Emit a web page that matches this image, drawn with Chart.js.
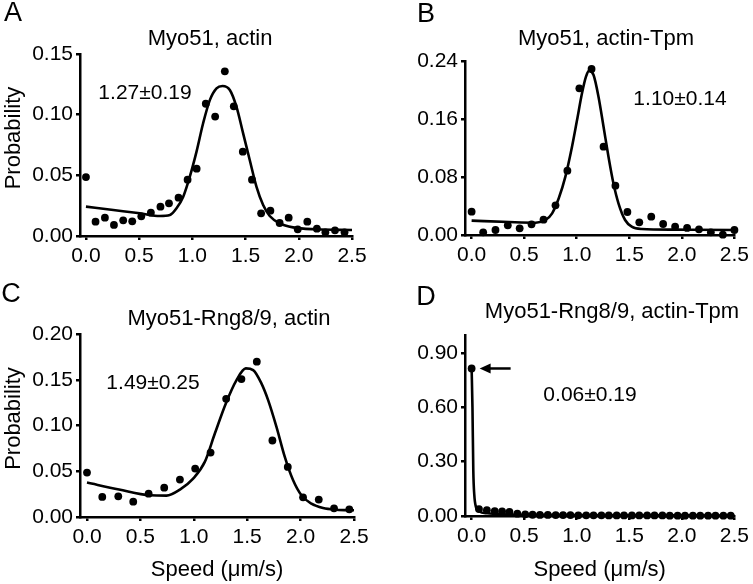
<!DOCTYPE html>
<html>
<head>
<meta charset="utf-8">
<script src="https://cdn.jsdelivr.net/npm/chart.js@4.4.0/dist/chart.umd.min.js"></script>
<style>
body { margin: 0; background: #fff; width: 753px; height: 584px; position: relative; overflow: hidden; }
canvas { position: absolute; }
</style>
</head>
<body>
<canvas id="chA" width="376" height="280" style="left:0;top:0"></canvas>
<canvas id="chB" width="377" height="280" style="left:376px;top:0"></canvas>
<canvas id="chC" width="376" height="304" style="left:0;top:280px"></canvas>
<canvas id="chD" width="377" height="304" style="left:376px;top:280px"></canvas>
<script>
// tick labels
var xTicks = [0, 0.5, 1.0, 1.5, 2.0, 2.5];
var yTicksA = [0, 0.05, 0.10, 0.15];
var yTicksB = [0, 0.08, 0.16, 0.24];
var yTicksC = [0, 0.05, 0.10, 0.15, 0.20];
var yTicksD = [0, 0.30, 0.60, 0.90];

// A - Myo51, actin
var speedA = [0, 0.09, 0.178, 0.263, 0.35, 0.435, 0.52, 0.61, 0.70, 0.78, 0.87, 0.955, 1.04, 1.126, 1.214, 1.305, 1.389, 1.474, 1.56, 1.646, 1.733, 1.82, 1.905, 1.99, 2.08, 2.17, 2.25, 2.34, 2.43];
var probA = [0.0486, 0.0118, 0.0151, 0.0091, 0.0129, 0.0121, 0.0162, 0.0192, 0.0242, 0.0269, 0.0316, 0.0464, 0.0555, 0.109, 0.0984, 0.1357, 0.1069, 0.0695, 0.0464, 0.0187, 0.0209, 0.0107, 0.0151, 0.0055, 0.0118, 0.006, 0.003, 0.0047, 0.003];
var fitSpeedA = [0, 0.257, 0.507, 0.695, 0.789, 0.851, 0.914, 0.976, 1.039, 1.101, 1.164, 1.227, 1.283, 1.352, 1.414, 1.477, 1.539, 1.602, 1.665, 1.727, 1.821, 1.946, 2.165, 2.5];
var fitProbA = [0.0242, 0.0214, 0.0187, 0.0165, 0.0173, 0.0228, 0.0324, 0.0489, 0.0695, 0.0929, 0.112, 0.1217, 0.1236, 0.1203, 0.1066, 0.0846, 0.0626, 0.0407, 0.0255, 0.0165, 0.0104, 0.0071, 0.0055, 0.0049];

// B - Myo51, actin-Tpm
var speedB = [0, 0.11, 0.227, 0.344, 0.457, 0.57, 0.684, 0.798, 0.911, 1.025, 1.141, 1.255, 1.368, 1.482, 1.595, 1.709, 1.822, 1.936, 2.05, 2.163, 2.276, 2.39, 2.5];
var probB = [0.0322, 0.0037, 0.0069, 0.0133, 0.0092, 0.0147, 0.0211, 0.0409, 0.0887, 0.2023, 0.229, 0.1218, 0.068, 0.0317, 0.0175, 0.0253, 0.0152, 0.0115, 0.0097, 0.0078, 0.0037, 0.0005, 0.0069];
var fitSpeedB = [0, 0.356, 0.608, 0.703, 0.766, 0.829, 0.892, 0.955, 1.003, 1.05, 1.088, 1.119, 1.16, 1.207, 1.255, 1.302, 1.349, 1.397, 1.46, 1.523, 1.617, 1.933, 2.5];
var fitProbB = [0.0198, 0.0179, 0.017, 0.0207, 0.0299, 0.0506, 0.0805, 0.1218, 0.1586, 0.1954, 0.2184, 0.2267, 0.2207, 0.1908, 0.1494, 0.108, 0.0713, 0.0437, 0.0207, 0.0115, 0.0083, 0.0074, 0.0069];

// C - Myo51-Rng8/9, actin
var speedC = [0, 0.143, 0.293, 0.433, 0.577, 0.723, 0.87, 1.013, 1.157, 1.303, 1.446, 1.59, 1.736, 1.88, 2.023, 2.17, 2.313, 2.456];
var probC = [0.0485, 0.0219, 0.0226, 0.0168, 0.0255, 0.0321, 0.0409, 0.0529, 0.0704, 0.1292, 0.1507, 0.1697, 0.0836, 0.0547, 0.0215, 0.019, 0.0095, 0.0084];
var fitSpeedC = [0, 0.3, 0.589, 0.745, 0.87, 0.994, 1.103, 1.197, 1.3, 1.4, 1.487, 1.556, 1.633, 1.696, 1.774, 1.852, 1.93, 2.008, 2.101, 2.21, 2.335, 2.5];
var fitProbC = [0.0376, 0.030, 0.0237, 0.0234, 0.030, 0.042, 0.0602, 0.0912, 0.1241, 0.1496, 0.1624, 0.1606, 0.146, 0.1277, 0.0985, 0.0657, 0.0401, 0.0237, 0.0146, 0.0099, 0.008, 0.0073];

// D - Myo51-Rng8/9, actin-Tpm
var speedD = [0, 0.07, 0.145, 0.22, 0.29, 0.36, 0.435, 0.51, 0.58, 0.65, 0.725, 0.80, 0.87, 0.94, 1.015, 1.09, 1.16, 1.235, 1.305, 1.38, 1.45, 1.525, 1.595, 1.67, 1.74, 1.815, 1.885, 1.96, 2.03, 2.105, 2.175, 2.25, 2.32, 2.395, 2.465];
var probD = [0.815, 0.038, 0.032, 0.027, 0.025, 0.022, 0.013, 0.009, 0.007, 0.006, 0.006, 0.005, 0.005, 0.005, 0.004, 0.004, 0.004, 0.004, 0.003, 0.003, 0.003, 0.003, 0.003, 0.003, 0.003, 0.003, 0.002, 0.002, 0.002, 0.002, 0.002, 0.002, 0.002, 0.002, 0.002];
var fitSpeedD = [0, 0.008, 0.016, 0.025, 0.041, 0.072, 0.15, 0.3, 0.6, 1.5, 2.5];
var fitProbD = [0.815, 0.6, 0.25, 0.12, 0.05, 0.025, 0.015, 0.01, 0.006, 0.004, 0.003];

var FONT = '"Liberation Sans", Arial, Helvetica, sans-serif';

function toPoints(xs, ys) {
	return xs.map(function(x, i) { return {x: x, y: ys[i]}; });
}

// letters, titles, fit values and the arrow
var panelText = {
	id: 'panelText',
	afterDraw: function(chart, args, o) {
		var ctx = chart.ctx;
		ctx.save();
		ctx.fillStyle = '#000';
		ctx.textAlign = 'center';
		ctx.textBaseline = 'middle';
		ctx.font = '27px ' + FONT;
		ctx.fillText(o.letter, o.letterPos[0], o.letterPos[1]);
		ctx.font = '22px ' + FONT;
		ctx.fillText(o.title, o.titlePos[0], o.titlePos[1]);
		ctx.font = '21px ' + FONT;
		ctx.fillText(o.stat, o.statPos[0], o.statPos[1]);
		if (o.arrow) {
			var pt = chart.getDatasetMeta(1).data[0];
			var x0 = pt.x + 8, x1 = pt.x + 39, y = pt.y;
			ctx.strokeStyle = '#000';
			ctx.lineWidth = 2.5;
			ctx.beginPath();
			ctx.moveTo(x0 + 6, y);
			ctx.lineTo(x1, y);
			ctx.stroke();
			ctx.beginPath();
			ctx.moveTo(x0, y);
			ctx.lineTo(x0 + 11, y - 5);
			ctx.lineTo(x0 + 11, y + 5);
			ctx.closePath();
			ctx.fill();
		}
		if (o.yTitle) {
			var a = chart.chartArea;
			ctx.font = '22px ' + FONT;
			ctx.translate(14, (a.top + a.bottom) / 2 - 7);
			ctx.rotate(-Math.PI / 2);
			ctx.fillText(o.yTitle, 0, 0);
		}
		ctx.restore();
	}
};

function makePanel(id, p) {
	return new Chart(document.getElementById(id), {
		type: 'scatter',
		data: {
			datasets: [{
				data: toPoints(p.fitX, p.fitY),
				showLine: true,
				pointRadius: 0,
				borderColor: '#000',
				borderWidth: 2.6,
				cubicInterpolationMode: 'monotone',
				clip: false,
				order: 2
			}, {
				data: toPoints(p.x, p.y),
				pointRadius: 3.9,
				backgroundColor: '#000',
				borderWidth: 0,
				clip: false,
				order: 1
			}]
		},
		options: {
			responsive: false,
			animation: false,
			devicePixelRatio: 1,
			layout: { padding: p.pad },
			plugins: {
				legend: { display: false },
				tooltip: { enabled: false },
				panelText: p.text
			},
			scales: {
				x: {
					type: 'linear',
					min: p.xMin,
					max: 2.5,
					afterBuildTicks: function(s) { s.ticks = xTicks.map(function(v) { return {value: v}; }); },
					afterFit: function(s) { s.height = p.xH; },
					ticks: {
						color: '#000', padding: 4, maxRotation: 0, autoSkip: false,
						font: { family: FONT, size: 21 },
						callback: function(v) { return v.toFixed(1); }
					},
					grid: { drawOnChartArea: false, tickLength: 4, lineWidth: 2.5, color: '#000' },
					border: { color: '#000', width: 2.5 },
					title: {
						display: !!p.xTitle,
						text: p.xTitle || '',
						color: '#000',
						font: { family: FONT, size: 22 },
						padding: { top: 0, bottom: 1 }
					}
				},
				y: {
					min: 0,
					max: p.yMax,
					afterBuildTicks: function(s) { s.ticks = p.yTicks.map(function(v) { return {value: v}; }); },
					afterFit: function(s) { s.width = p.yW; },
					ticks: {
						color: '#000', padding: 3, autoSkip: false,
						font: { family: FONT, size: 21 },
						callback: function(v) { return v.toFixed(2); }
					},
					grid: { drawOnChartArea: false, tickLength: 4, lineWidth: 2.5, color: '#000' },
					border: { color: '#000', width: 2.5 }
				}
			}
		},
		plugins: [panelText]
	});
}

makePanel('chA', {
	x: speedA, y: probA, fitX: fitSpeedA, fitY: fitProbA,
	xMin: -0.056, yMax: 0.15, yTicks: yTicksA,
	pad: { left: 0, top: 54, right: 24, bottom: 0 }, yW: 80, xH: 44,
	text: { letter: 'A', letterPos: [13, 14], title: 'Myo51, actin', titlePos: [210, 39],
		stat: '1.27±0.19', statPos: [145, 93], yTitle: 'Probability' }
});

makePanel('chB', {
	x: speedB, y: probB, fitX: fitSpeedB, fitY: fitProbB,
	xMin: -0.063, yMax: 0.24, yTicks: yTicksB,
	pad: { left: 0, top: 61, right: 17, bottom: 0 }, yW: 89, xH: 45,
	text: { letter: 'B', letterPos: [50, 15], title: 'Myo51, actin-Tpm', titlePos: [230, 39],
		stat: '1.10±0.14', statPos: [304, 99] }
});

makePanel('chC', {
	x: speedC, y: probC, fitX: fitSpeedC, fitY: fitProbC,
	xMin: -0.0655, yMax: 0.20, yTicks: yTicksC,
	pad: { left: 0, top: 54, right: 22, bottom: 0 }, yW: 80, xH: 67,
	xTitle: 'Speed (μm/s)',
	text: { letter: 'C', letterPos: [11, 15], title: 'Myo51-Rng8/9, actin', titlePos: [229, 39],
		stat: '1.49±0.25', statPos: [153, 103], yTitle: 'Probability' }
});

makePanel('chD', {
	x: speedD, y: probD, fitX: fitSpeedD, fitY: fitProbD,
	xMin: -0.063, yMax: 1.0, yTicks: yTicksD,
	pad: { left: 0, top: 55, right: 17, bottom: 0 }, yW: 89, xH: 68,
	xTitle: 'Speed (μm/s)',
	text: { letter: 'D', letterPos: [50, 18], title: 'Myo51-Rng8/9, actin-Tpm', titlePos: [236, 32],
		stat: '0.06±0.19', statPos: [214, 115], arrow: true }
});
</script>
</body>
</html>
